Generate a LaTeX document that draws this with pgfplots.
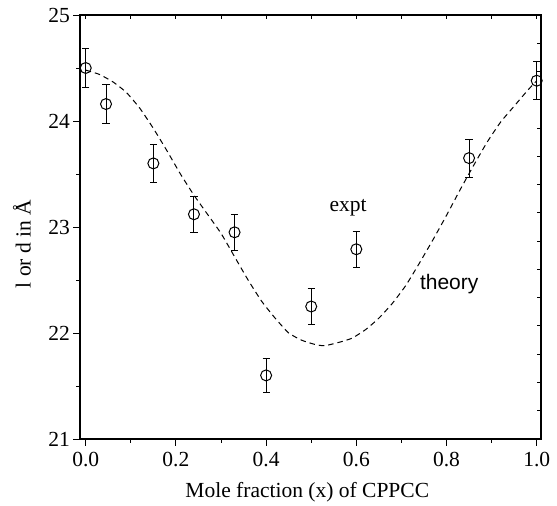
\documentclass[border=0pt]{standalone}
\usepackage{pgfplots}
\pgfplotsset{compat=1.18}
\usepackage{fontspec}
\setmainfont{Liberation Serif}
\newfontfamily\labelsans{Liberation Sans}

% measured spacing l (or d) with error, vs mole fraction of CPPCC
\pgfplotstableread{
x     y      e
0.00  24.50  0.18
0.045 24.16  0.18
0.15  23.60  0.18
0.24  23.12  0.17
0.33  22.95  0.17
0.40  21.60  0.16
0.50  22.25  0.17
0.60  22.79  0.17
0.85  23.65  0.18
1.00  24.38  0.18
}\expt

% model prediction
\pgfplotstableread{
x     y
0.00  24.48
0.03  24.44
0.06  24.37
0.09  24.27
0.12  24.12
0.15  23.93
0.18  23.72
0.21  23.50
0.24  23.30
0.27  23.12
0.30  22.94
0.33  22.72
0.36  22.50
0.39  22.30
0.42  22.14
0.45  22.00
0.48  21.93
0.51  21.89
0.53  21.88
0.56  21.91
0.59  21.95
0.62  22.03
0.65  22.14
0.68  22.28
0.71  22.45
0.74  22.66
0.77  22.88
0.80  23.11
0.83  23.35
0.86  23.58
0.89  23.80
0.92  23.99
0.95  24.14
0.98  24.29
1.00  24.38
}\theory

\begin{document}
\begin{tikzpicture}[x=1pt,y=1pt]
\useasboundingbox (0,0) rectangle (557,506);
\begin{axis}[
  at={(80pt,67pt)}, anchor=south west,
  scale only axis, width=461pt, height=424pt,
  xmin=-0.0127, xmax=1.0095, ymin=21, ymax=25,
  xtick={0,0.2,...,1.0}, minor xtick={0.1,0.3,...,0.9},
  ytick={21,...,25}, minor ytick={21.5,22.5,23.5,24.5},
  tick pos=left, tick align=outside,
  major tick length=6.5pt, minor tick length=3.8pt,
  axis line style={line width=1.1pt},
  every tick/.style={black, line width=0.9pt},
  /pgf/number format/assume math mode=true,
  xticklabel={\pgfmathprintnumber[fixed,fixed zerofill,precision=1]{\tick}},
  yticklabel={\pgfmathprintnumber[fixed,precision=0]{\tick}},
  ticklabel style={font=\fontsize{21.5}{22}\selectfont},
  xticklabel style={yshift=-3.5pt},
  label style={font=\fontsize{21.5}{22}\selectfont},
  xlabel={Mole fraction (x) of CPPCC},
  xlabel style={at={(axis description cs:0.493,-0.137)}, anchor=base},
  ylabel={l or d in Å},
  ylabel style={at={(axis description cs:-0.126,0.46)}, anchor=center, rotate=0},
]
\addplot[black, line width=1pt, dash pattern=on 5.5pt off 4pt, smooth, tension=0.3]
  table[x=x, y=y] {\theory};
\addplot[black, only marks, mark=o, mark size=5.5pt, line width=1pt,
  mark options={fill=white},
  error bars/.cd, y dir=both, y explicit,
  error bar style={line width=1pt},
  error mark options={rotate=90, mark size=3.6pt, line width=1pt}]
  table[x=x, y=y, y error=e] {\expt};
\node[font=\fontsize{21.5}{22}\selectfont] at (axis cs:0.582,23.18) {expt};
\node[font=\labelsans\fontsize{21}{22}\selectfont] at (axis cs:0.806,22.46) {theory};
\end{axis}
% second scale along the top and right edges
\begin{axis}[
  at={(80pt,67pt)}, anchor=south west,
  scale only axis, width=461pt, height=424pt,
  xmin=-0.0127, xmax=1.0095, ymin=0, ymax=15,
  xtick={0,0.1,...,1.0}, ytick={0,...,15},
  tick pos=right, tick align=inside,
  major tick length=4.5pt,
  axis line style={line width=1.1pt},
  every tick/.style={black, line width=0.9pt},
  xticklabels={}, yticklabels={},
]
\end{axis}
\end{tikzpicture}
\end{document}
